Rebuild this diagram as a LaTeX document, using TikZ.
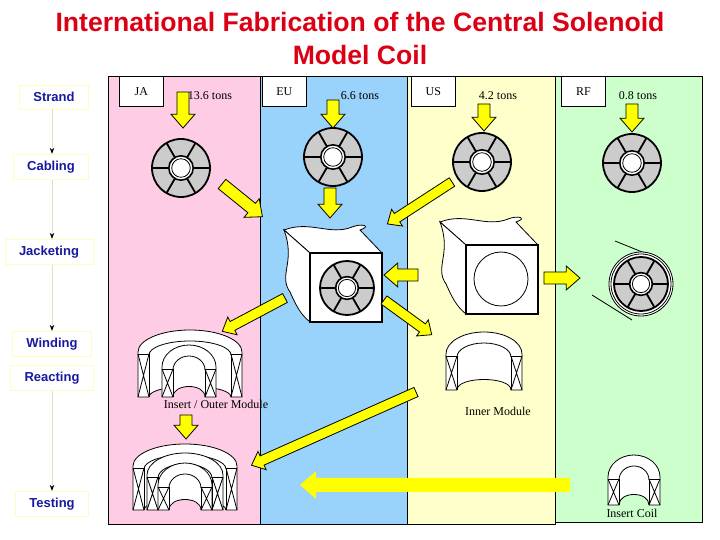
\documentclass[tikz,border=0pt]{standalone}
\usepackage{fontspec}
\usetikzlibrary{arrows.meta}
\setmainfont{Liberation Serif}
\newfontfamily\arialf{Liberation Sans}
\definecolor{cpink}{RGB}{255,204,229}
\definecolor{cblue}{RGB}{153,210,250}
\definecolor{cyel}{RGB}{255,255,204}
\definecolor{cgreen}{RGB}{204,255,204}
\definecolor{arr}{RGB}{255,255,0}
\definecolor{navy}{RGB}{25,25,160}
\definecolor{ttl}{RGB}{220,0,20}
\newcommand\barw[6]{\begin{scope}[shift={(#1,#2)},rotate=-#3]
 \filldraw[#6] (0,-#5) -- ({#4-2.3*#5},-#5) -- ({#4-2.3*#5},{-2*#5}) -- (#4,0) -- ({#4-2.3*#5},{2*#5}) -- ({#4-2.3*#5},#5) -- (0,#5) -- cycle;
 \end{scope}}
\newcommand\cabl[3]{\begin{scope}[shift={(#1,#2)}]
 \filldraw[fill=gray!40,line width=0.9pt] (0,0) circle (#3);
 \foreach \a in {0,60,...,300}{\draw[line width=0.9pt] (\a:{0.42*#3}) -- (\a:#3);}
 \filldraw[fill=white,line width=0.8pt] (0,0) circle ({0.42*#3});
 \draw (0,0) circle ({0.32*#3});
 \end{scope}}
\newcommand\coilx[4]{\begin{scope}[shift={(#1,#2)}]
 \filldraw[fill=white] (-#3,#4) -- (-#3,22) arc[start angle=180,end angle=360,x radius=#3,y radius=22] -- (#3,#4) -- ({#3-11},#4) .. controls ({#3-11},{#4-14}) and ({-#3+11},{#4-14}) .. ({-#3+11},#4) -- cycle;
 \draw ({#3-11},25) arc[start angle=0,end angle=-180,x radius={#3-11},y radius=14];
 \draw (-#3,24) -- ({-#3+11},24) -- ({-#3+11},#4) (#3,24) -- ({#3-11},24) -- ({#3-11},#4);
 \draw (-#3,24) -- ({-#3+11},#4) ({-#3+11},24) -- (-#3,#4);
 \draw (#3,24) -- ({#3-11},#4) ({#3-11},24) -- (#3,#4);
 \end{scope}}
\newcommand\blockshape[2]{\begin{scope}[shift={(#1,#2)}]
 \filldraw[fill=white] (310,253) -- (284,230) .. controls (310,220) and (330,236) .. (352,227) .. controls (362,223) and (372,226) .. (360,230) -- (382,253) -- cycle;
 \filldraw[fill=white] (310,253) -- (284,230) .. controls (296,262) and (278,275) .. (290,292) .. controls (296,305) and (300,314) .. (310,322) -- cycle;
 \filldraw[fill=white,line width=1.2pt] (310,253) rectangle (382,322);
 \end{scope}}
\tikzset{lab/.style={font=\arialf\bfseries\fontsize{6.5}{7}\selectfont,text=navy,draw=yellow!25!white,fill=white,minimum height=12pt,inner xsep=7pt},
 hdr/.style={draw,fill=white,minimum width=22pt,minimum height=15pt,font=\fontsize{6}{7}\selectfont,anchor=north west,inner sep=1pt},
 ton/.style={font=\fontsize{6}{7}\selectfont},
 yarr/.style={fill=arr,draw=black,line width=0.4pt},
 flow/.style={draw=yellow!30!gray!40,-{Stealth[length=3pt,black]}}}
\begin{document}
\begin{tikzpicture}[x=0.5pt,y=-0.5pt]
\useasboundingbox[fill=white] (0,0) rectangle (720,540);
\node[font=\arialf\bfseries\fontsize{13.3}{16.5}\selectfont,text=ttl,align=center] (title) at (360,38) {International Fabrication of the Central Solenoid\\Model Coil};
% columns
\filldraw[fill=cpink] (108,76) rectangle (260,524);
\filldraw[fill=cblue] (260,76) rectangle (407,524);
\filldraw[fill=cyel] (407,76) rectangle (555,524);
\filldraw[fill=cgreen] (555,76) rectangle (702,522);
\node[hdr] (ja) at (119,76) {JA};
\node[hdr] (eu) at (262,76) {EU};
\node[hdr] (us) at (411,76) {US};
\node[hdr] (rf) at (561,76) {RF};
\node[ton] (t1) at (210,96) {13.6 tons};
\node[ton] (t2) at (360,96) {6.6 tons};
\node[ton] (t3) at (498,96) {4.2 tons};
\node[ton] (t4) at (638,96) {0.8 tons};
% left process
\node[lab] (s1) at (54,97) {Strand};
\node[lab] (s2) at (51,167) {Cabling};
\node[lab] (s3) at (49,252) {Jacketing};
\node[lab] (s4) at (52,344) {Winding};
\node[lab] (s5) at (52,378) {Reacting};
\node[lab] (s6) at (52,504) {Testing};
\coordinate (fx) at (52,0);
\draw[flow] (s1.south -| fx) -- (s2.north -| fx);
\draw[flow] (s2.south -| fx) -- (s3.north -| fx);
\draw[flow] (s3.south -| fx) -- (s4.north -| fx);
\draw[flow] (s5.south -| fx) -- (s6.north -| fx);
% cables
\cabl{181}{168}{29}
\cabl{333}{157}{29}
\cabl{482}{162}{29}
\cabl{632}{163}{29}
% blocks
\blockshape{0}{0}
\cabl{347}{288}{27}
\blockshape{156}{-8}
\draw (501,279) circle (27);
% RF jacketed
\draw (615,241) -- (662,260);
\draw (592,295) -- (632,320);
\filldraw[fill=white] (641,284) circle (32);
\draw (641,284) circle (30);
\cabl{641}{284}{27}
% coils
\coilx{190}{330}{52}{67}
\coilx{189}{345}{27}{52}
\coilx{185}{444}{52}{66}
\coilx{185}{453}{38}{57}
\coilx{185}{463}{27}{47}
\coilx{484}{332}{38}{58}
\coilx{634}{455}{26}{50}
\node[ton] (m1) at (216,404) {Insert / Outer Module};
\node[ton] (m2) at (498,411) {Inner Module};
\node[ton] (m3) at (632,513) {Insert Coil};
% arrows
\barw{183}{92}{90}{36}{6}{yarr}
\barw{333}{100}{90}{28}{6}{yarr}
\barw{484}{104}{90}{27}{6}{yarr}
\barw{632}{104}{90}{28}{6}{yarr}
\barw{330}{188}{90}{30}{6}{yarr}
\barw{222}{184}{39}{52}{6}{yarr}
\barw{452}{182}{147}{77}{5}{yarr}
\barw{285}{298}{152}{71}{5}{yarr}
\barw{384}{300}{36}{59}{5}{yarr}
\barw{418}{275}{180}{34}{6}{yarr}
\barw{544}{278}{0}{36}{6}{yarr}
\barw{186}{415}{90}{24}{6}{yarr}
\barw{416}{392}{156}{180}{5}{yarr}
\barw{570}{485}{180}{270}{7}{fill=arr,draw=none}
\end{tikzpicture}
\end{document}
